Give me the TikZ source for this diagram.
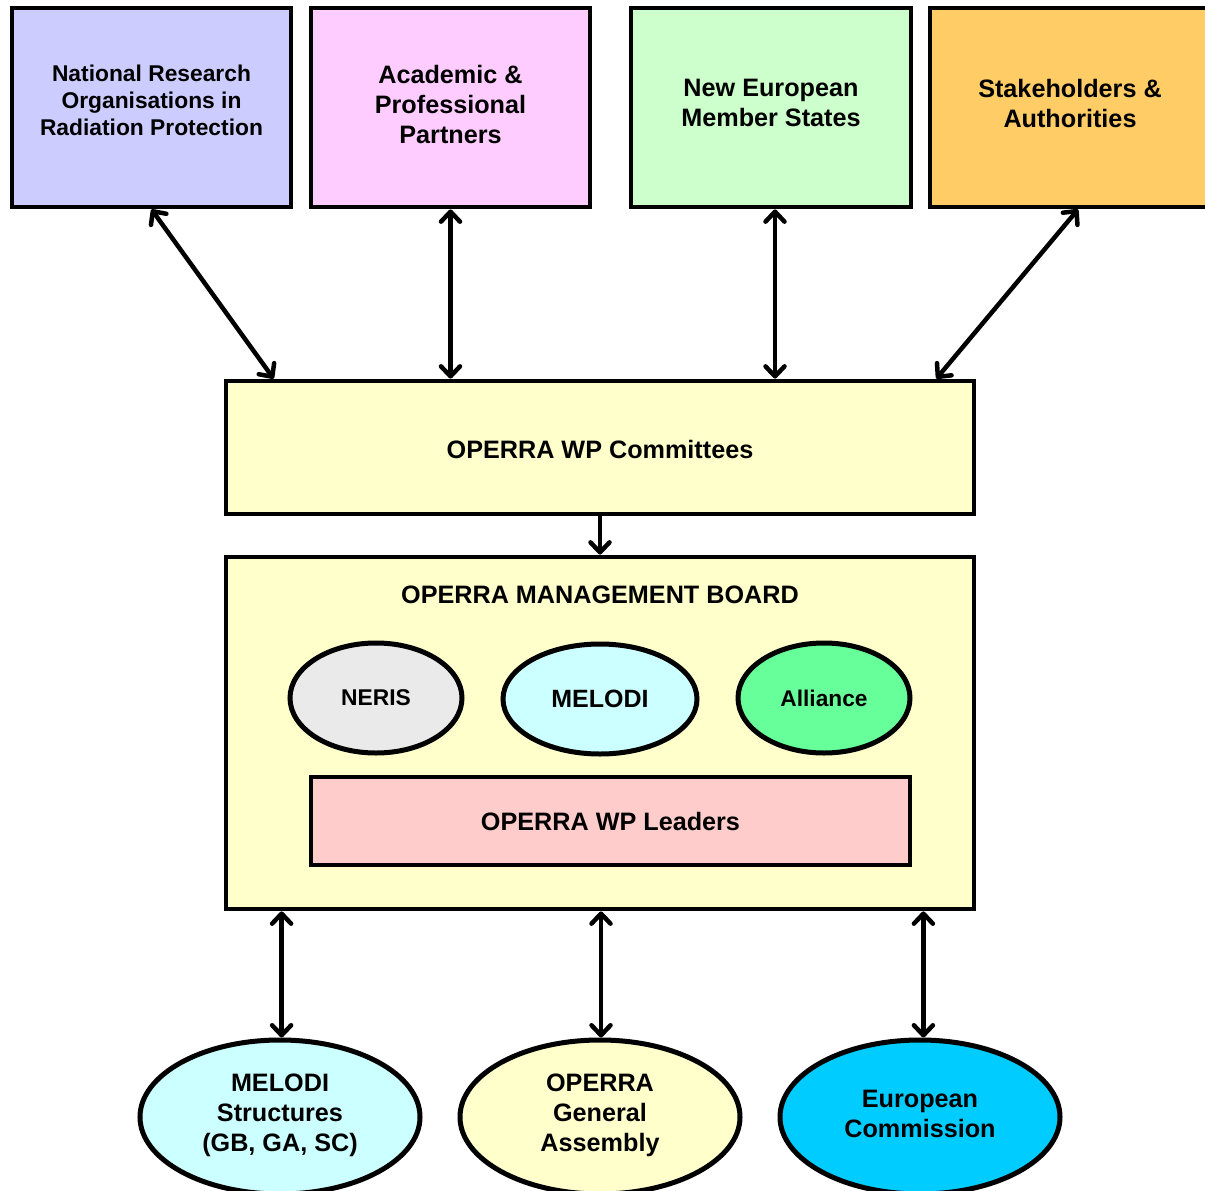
\documentclass[tikz,border=0pt]{standalone}
\usepackage{fontspec}
\setmainfont{Liberation Sans}
\usetikzlibrary{arrows.meta,shapes.geometric}
\definecolor{cblue}{HTML}{CCCCFF}
\definecolor{cpink}{HTML}{FFCCFF}
\definecolor{cgreen}{HTML}{CCFFCC}
\definecolor{corange}{HTML}{FFCC66}
\definecolor{cyellow}{HTML}{FFFFCC}
\definecolor{cgrey}{HTML}{EAEAEA}
\definecolor{ccyan}{HTML}{CCFFFF}
\definecolor{calliance}{HTML}{66FF99}
\definecolor{crose}{HTML}{FFCCCC}
\definecolor{cec}{HTML}{00CCFF}
\tikzset{
  boxsty/.style={draw=black, line width=4.8pt, rectangle, inner sep=0pt},
  ellsty/.style={draw=black, line width=5pt, ellipse, inner sep=0pt},
  txt/.style={font=\bfseries, align=center, inner sep=0pt},
  conn/.style={line width=4.5pt, {Straight Barb[length=10pt,width=19pt,line cap=round,line join=round]}-{Straight Barb[length=10pt,width=19pt,line cap=round,line join=round]}},
  conn1/.style={line width=4.5pt, -{Straight Barb[length=10pt,width=19pt,line cap=round,line join=round]}}
}
\begin{document}
\begin{tikzpicture}[x=1pt,y=-1pt]
\useasboundingbox[fill=white] (0,0) rectangle (1205,1191);
% top boxes
\node[boxsty, fill=cblue, minimum width=279pt, minimum height=199pt] (b1) at (151.5,107.5) {};
\node[boxsty, fill=cpink, minimum width=279pt, minimum height=199pt] (b2) at (450.5,107.5) {};
\node[boxsty, fill=cgreen, minimum width=280pt, minimum height=199pt] (b3) at (771,107.5) {};
\node[boxsty, fill=corange, minimum width=280pt, minimum height=199pt] (b4) at (1070,107.5) {};
\node[txt, font=\bfseries\fontsize{22.8}{27}\selectfont] (t1) at (151.5,100) {National Research\\Organisations in\\Radiation Protection};
\node[txt, font=\bfseries\fontsize{25.2}{30}\selectfont] (t2) at (450.5,104) {Academic \&\\Professional\\Partners};
\node[txt, font=\bfseries\fontsize{25.2}{30}\selectfont] (t3) at (771,103) {New European\\Member States};
\node[txt, font=\bfseries\fontsize{25.2}{30}\selectfont] (t4) at (1070,103) {Stakeholders \&\\Authorities};
% committees
\node[boxsty, fill=cyellow, minimum width=748pt, minimum height=133pt] (comm) at (600,447.5) {};
\node[txt, font=\bfseries\fontsize{25.2}{30}\selectfont] (tc) at (600,449) {OPERRA WP Committees};
% board
\node[boxsty, fill=cyellow, minimum width=748pt, minimum height=352pt] (board) at (600,733) {};
\node[txt, font=\bfseries\fontsize{25.2}{30}\selectfont] (tb) at (600,595) {OPERRA MANAGEMENT BOARD};
\node[ellsty, fill=cgrey, minimum width=172pt, minimum height=110pt, font=\bfseries\fontsize{22.8}{26}\selectfont] (neris) at (376,698) {NERIS};
\node[ellsty, fill=ccyan, minimum width=194pt, minimum height=110pt, font=\bfseries\fontsize{25}{28}\selectfont] (melodi) at (600,699) {MELODI};
\node[ellsty, fill=calliance, minimum width=172pt, minimum height=110pt, font=\bfseries\fontsize{22.7}{26}\selectfont] (alliance) at (824,698) {Alliance};
\node[boxsty, fill=crose, minimum width=599pt, minimum height=88pt, font=\bfseries\fontsize{25.2}{30}\selectfont] (leaders) at (610.5,821) {OPERRA WP Leaders};
% bottom ellipses
\node[ellsty, fill=ccyan, minimum width=280pt, minimum height=154pt] (mel2) at (280,1117) {};
\node[ellsty, fill=cyellow, minimum width=280pt, minimum height=154pt] (ga) at (600,1117) {};
\node[ellsty, fill=cec, minimum width=280pt, minimum height=154pt] (ec) at (920,1117) {};
\node[txt, font=\bfseries\fontsize{25.2}{30}\selectfont] (tm2) at (280,1115) {MELODI\\Structures\\(GB, GA, SC)};
\node[txt, font=\bfseries\fontsize{25.2}{30}\selectfont] (tga) at (600,1115) {OPERRA\\General\\Assembly};
\node[txt, font=\bfseries\fontsize{25.2}{30}\selectfont] (tec) at (920,1114) {European\\Commission};
% connectors
\draw[conn] (b1.south) -- ([xshift=50pt]comm.north west);
\draw[conn] (b2.south) -- (b2.south |- comm.north);
\draw[conn] ([xshift=4pt]b3.south) -- ([xshift=4pt]b3.south |- comm.north);
\draw[conn] ([xshift=8pt]b4.south) -- ([xshift=-40pt]comm.north east);
\draw[conn1] (comm.south) -- (board.north);
\draw[conn] ([xshift=58pt]board.south west) -- ([xshift=58pt]board.south west |- mel2.north);
\draw[conn] ([xshift=1pt]board.south) -- ([xshift=1pt]board.south |- ga.north);
\draw[conn] ([xshift=-53pt]board.south east) -- ([xshift=-53pt]board.south east |- ec.north);
\end{tikzpicture}
\end{document}
